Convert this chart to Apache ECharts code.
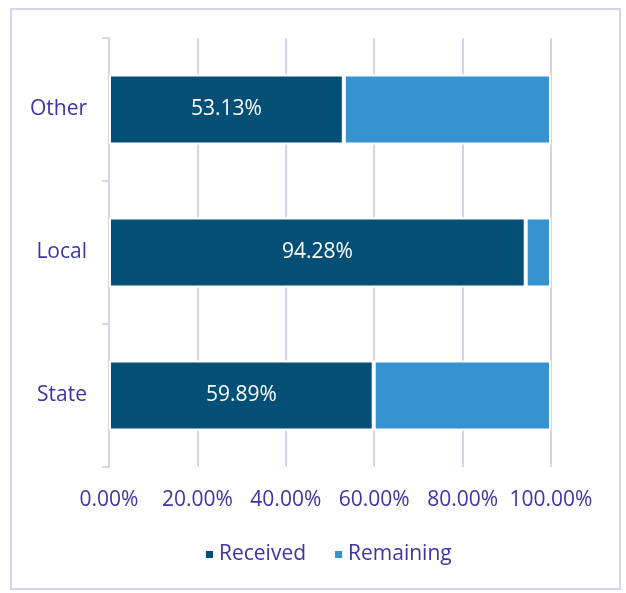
<!DOCTYPE html>
<html>
<head>
<meta charset="utf-8">
<script src="https://cdn.jsdelivr.net/npm/echarts@6/dist/echarts.min.js"></script>
<style>
  html, body { margin: 0; padding: 0; background: #fff; }
  #fundChart { width: 626px; height: 593px; }
</style>
</head>
<body>
<div id="fundChart"></div>
<script>
// values (bottom to top on the category axis)
const categories = ['State', 'Local', 'Other'];
const received = [59.89, 94.28, 53.13];
const remaining = [40.11, 5.72, 46.87];
const seriesNames = ['Received', 'Remaining'];
const xTicks = [0, 20, 40, 60, 80, 100];

const textColor = '#3d34a6';
const lineColor = '#d8d2f1';
const fontName = 'Open Sans';

const chart = echarts.init(document.getElementById('fundChart'));
chart.setOption({
  animation: false,
  color: ['#044f75', '#3792d0'],
  graphic: [{
    type: 'rect',
    shape: { x: 11, y: 9, width: 609, height: 580 },
    style: { fill: 'none', stroke: lineColor, lineWidth: 2 },
    silent: true
  }],
  grid: {
    left: 109,
    right: 75,
    top: 38,
    bottom: 126
  },
  legend: {
    data: seriesNames,
    bottom: 23,
    left: 199,
    itemWidth: 9,
    itemHeight: 9,
    itemGap: 27,
    icon: 'rect',
    textStyle: { color: textColor, fontSize: 21, fontFamily: fontName }
  },
  xAxis: {
    type: 'value',
    min: xTicks[0],
    max: xTicks[xTicks.length - 1],
    interval: 20,
    axisLine: { show: false },
    axisTick: { show: false },
    splitLine: { show: true, lineStyle: { color: lineColor, width: 2 } },
    axisLabel: {
      color: textColor,
      fontSize: 21,
      fontFamily: fontName,
      margin: 23,
      formatter: function(v) { return v.toFixed(2) + '%'; }
    }
  },
  yAxis: {
    type: 'category',
    data: categories,
    axisLine: { show: true, lineStyle: { color: lineColor, width: 2 } },
    axisTick: { show: true, length: 7, lineStyle: { color: lineColor, width: 2 } },
    axisLabel: {
      color: textColor,
      fontSize: 21,
      fontFamily: fontName,
      margin: 22,
      padding: [4, 0, 0, 0]
    }
  },
  series: [
    {
      name: seriesNames[0],
      type: 'bar',
      stack: 'total',
      barWidth: '49%',
      data: received,
      itemStyle: { borderColor: '#fff', borderWidth: 2 },
      label: {
        show: true,
        position: 'inside',
        color: '#fff',
        fontSize: 21,
        fontFamily: fontName,
        padding: [4, 0, 0, 0],
        formatter: function(p) { return p.value.toFixed(2) + '%'; }
      }
    },
    {
      name: seriesNames[1],
      type: 'bar',
      stack: 'total',
      data: remaining,
      itemStyle: { borderColor: '#fff', borderWidth: 2 }
    }
  ]
});
</script>
</body>
</html>
